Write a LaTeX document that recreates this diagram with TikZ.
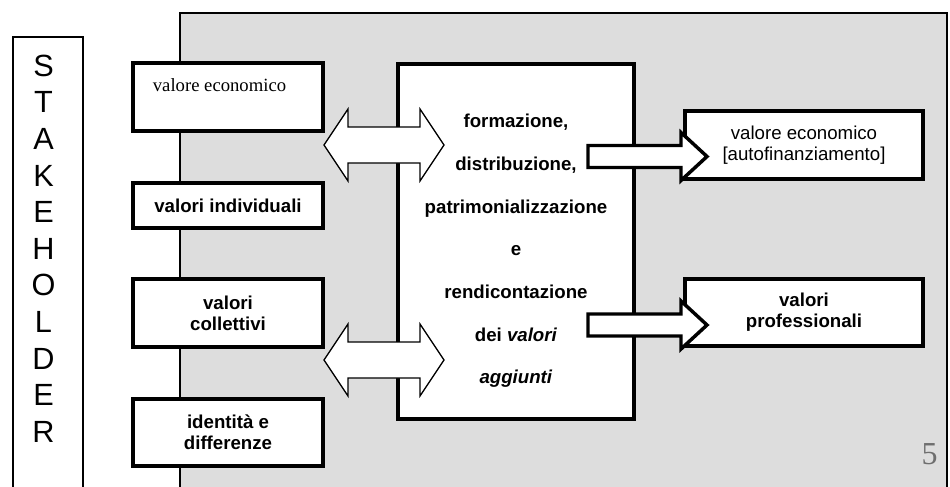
\documentclass[tikz,border=0pt]{standalone}
\usepackage{fontspec}
\setmainfont{Liberation Sans}
\newfontfamily\timesfont{Liberation Serif}
\definecolor{panelgray}{RGB}{221,221,221}
\definecolor{pagenumgray}{RGB}{110,110,110}
\begin{document}
\begin{tikzpicture}[x=0.75pt,y=-0.75pt,
  thickbox/.style={draw=black, line width=2.6pt, fill=white, inner sep=0pt, align=center,
    font=\fontsize{14}{16}\selectfont\bfseries},
  thinline/.style={draw=black, line width=1.1pt},
  dblarrow/.style={draw=black, line width=1pt, fill=white, line join=miter},
  blockarrow/.style={draw=black, line width=2.6pt, fill=white, line join=miter},
  letter/.style={inner sep=0pt, font=\fontsize{23}{23}\selectfont},
  bodytxt/.style={inner sep=0pt, align=center, font=\fontsize{14}{16}\selectfont}
]
\useasboundingbox (0,0) rectangle (950,486);
\clip (0,0) rectangle (950,486);
\fill[white] (0,0) rectangle (950,486);

% grey panel and stakeholder column
\draw[thinline, fill=panelgray] (180,13) rectangle (947,500);
\draw[thinline, fill=white] (13,37) rectangle (83,500);
\foreach \l [count=\i from 0] in {S,T,A,K,E,H,O,L,D,E,R}
  \node[letter] (st\i) at (43.5,65.5+\i*36.65) {\l};

% left boxes
\node[thickbox, minimum width=190*0.75pt, minimum height=68*0.75pt] (l1) at (228,97) {};
\node[bodytxt, font=\fontsize{14}{16}\selectfont\timesfont] (l1t) at (219.5,85) {valore economico};
\node[thickbox, minimum width=190*0.75pt, minimum height=45*0.75pt] (l2) at (228,205.5) {valori individuali};
\node[thickbox, minimum width=190*0.75pt, minimum height=68*0.75pt] (l3) at (228,313) {valori\\collettivi};
\node[thickbox, minimum width=190*0.75pt, minimum height=67*0.75pt] (l4) at (228,432.5) {identità e\\differenze};

% central box
\node[thickbox, minimum width=236*0.75pt, minimum height=355*0.75pt] (c) at (516,241.5) {};
\node[bodytxt, font=\fontsize{14}{32}\selectfont\bfseries] (ct) at (516,251)
  {formazione,\\distribuzione,\\patrimonializzazione\\e\\rendicontazione\\dei \textit{valori}\\\textit{aggiunti}};

% double arrows
\foreach \cy/\nm in {145/a1,360/a2}{
  \draw[dblarrow] (324,\cy) -- (348,\cy-36) -- (348,\cy-18) -- (420,\cy-18) -- (420,\cy-36)
    -- (444,\cy) -- (420,\cy+36) -- (420,\cy+18) -- (348,\cy+18) -- (348,\cy+36) -- cycle;
}

% right boxes
\node[thickbox, minimum width=238*0.75pt, minimum height=68*0.75pt, font=\fontsize{14}{16}\selectfont] (r1) at (804,145) {valore economico\\{[autofinanziamento]}};
\node[thickbox, minimum width=238*0.75pt, minimum height=67*0.75pt] (r2) at (804,312.5) {valori\\professionali};

% block arrows
\foreach \cy in {156.5,325}{
  \draw[blockarrow] (588,\cy-11) -- (681,\cy-11) -- (681,\cy-24) -- (707,\cy)
    -- (681,\cy+24) -- (681,\cy+11) -- (588,\cy+11) -- cycle;
}

% page number
\node[inner sep=0pt, text=pagenumgray, font=\fontsize{24}{24}\selectfont\timesfont] (pn) at (929.5,454) {5};
\end{tikzpicture}
\end{document}
